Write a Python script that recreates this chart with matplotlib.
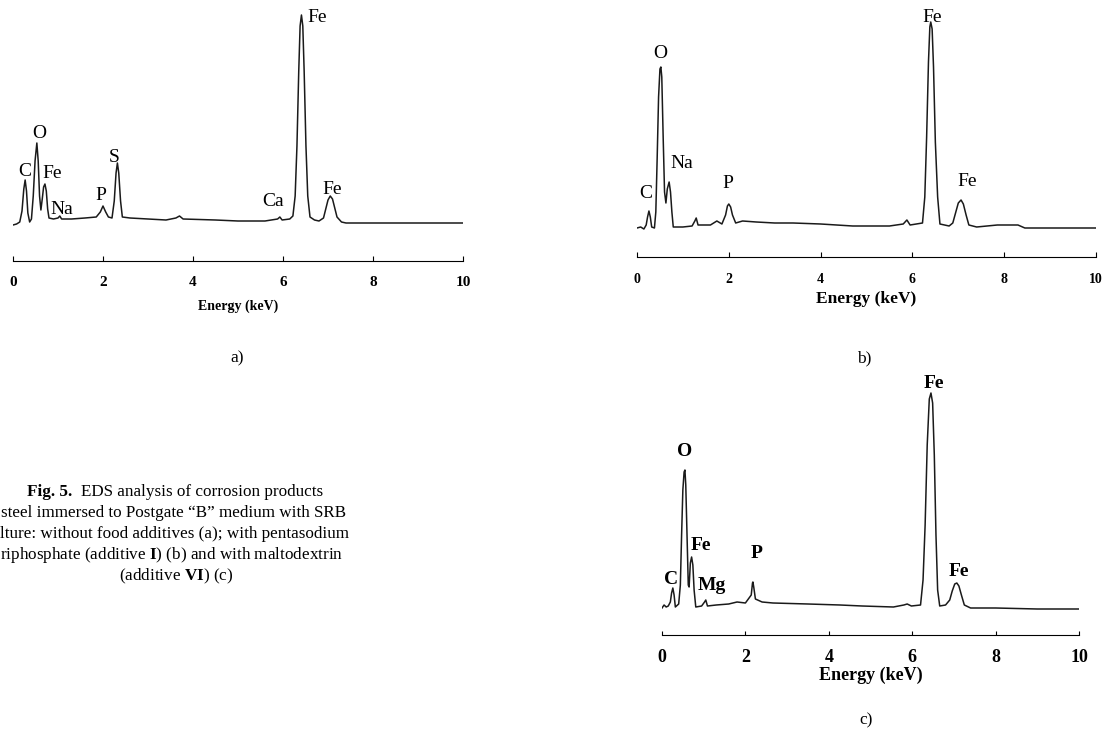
import matplotlib
matplotlib.use("Agg")
import matplotlib.pyplot as plt
import numpy as np

plt.rcParams["font.family"] = "serif"
plt.rcParams["font.serif"] = ["Liberation Serif", "DejaVu Serif"]
plt.rcParams["mathtext.fontset"] = "custom"
plt.rcParams["mathtext.rm"] = "Liberation Serif"
plt.rcParams["mathtext.bf"] = "Liberation Serif:bold"

# spectrum a) - without food additives (energy keV, counts)
energy_a = [0.00, 0.08, 0.15, 0.20, 0.24, 0.27, 0.30, 0.33, 0.37, 0.41, 0.45, 0.49, 0.53, 0.56, 0.59,
            0.62, 0.65, 0.68, 0.71, 0.74, 0.77, 0.80, 0.90, 1.00, 1.04, 1.08, 1.30, 1.60, 1.85, 1.94,
            2.00, 2.06, 2.12, 2.20, 2.25, 2.29, 2.32, 2.35, 2.39, 2.43, 2.60, 3.00, 3.40, 3.62, 3.70,
            3.78, 4.50, 5.00, 5.60, 5.88, 5.93, 5.98, 6.15, 6.22, 6.27, 6.31, 6.35, 6.38, 6.41, 6.44,
            6.47, 6.51, 6.55, 6.60, 6.70, 6.80, 6.90, 6.95, 7.00, 7.05, 7.10, 7.15, 7.20, 7.30, 7.40,
            8.00, 9.00, 10.0]
counts_a = [36, 37, 39, 50, 72, 81, 70, 48, 39, 42, 65, 100, 118, 100, 65,
            51, 62, 74, 77, 70, 52, 43, 42, 43, 45, 42, 42, 43, 44, 49,
            55, 49, 44, 43, 60, 88, 98, 88, 60, 44, 43, 42, 41, 43, 45,
            42, 41, 40, 40, 42, 44, 41, 42, 45, 65, 115, 190, 235, 246, 235,
            190, 115, 65, 44, 41, 40, 43, 52, 61, 65, 62, 53, 44, 39, 38,
            38, 38, 38]

# spectrum b) - with pentasodium triphosphate
energy_b = [0.00, 0.08, 0.15, 0.20, 0.23, 0.26, 0.29, 0.32, 0.38, 0.41, 0.44, 0.47, 0.50, 0.52, 0.54,
            0.57, 0.60, 0.63, 0.66, 0.70, 0.73, 0.76, 0.79, 1.00, 1.20, 1.26, 1.29, 1.33, 1.60, 1.74,
            1.85, 1.93, 1.97, 2.00, 2.04, 2.08, 2.15, 2.30, 2.60, 3.00, 3.40, 4.00, 4.70, 5.50, 5.80,
            5.88, 5.95, 6.22, 6.27, 6.31, 6.35, 6.38, 6.40, 6.43, 6.46, 6.50, 6.55, 6.60, 6.80, 6.88,
            6.94, 7.00, 7.06, 7.11, 7.17, 7.23, 7.40, 7.85, 8.30, 8.45, 9.00, 10.0]
counts_b = [29, 30, 28, 32, 40, 46, 40, 30, 29, 45, 100, 160, 188, 190, 180,
            120, 65, 54, 68, 75, 65, 45, 30, 30, 31, 36, 39, 32, 32, 36,
            33, 42, 51, 53, 50, 42, 34, 36, 35, 34, 34, 33, 31, 31, 33,
            37, 32, 34, 60, 120, 195, 230, 235, 228, 190, 115, 60, 33, 31, 34,
            44, 54, 57, 53, 42, 32, 30, 32, 32, 29, 29, 29]

# spectrum c) - with maltodextrin
energy_c = [0.00, 0.05, 0.10, 0.15, 0.20, 0.23, 0.26, 0.29, 0.32, 0.40, 0.44, 0.47, 0.50, 0.53, 0.55,
            0.57, 0.60, 0.63, 0.65, 0.68, 0.71, 0.74, 0.77, 0.81, 0.95, 1.02, 1.05, 1.09, 1.30, 1.60,
            1.80, 2.00, 2.14, 2.17, 2.18, 2.20, 2.24, 2.40, 2.66, 3.50, 4.27, 4.80, 5.55, 5.80, 5.88,
            5.98, 6.20, 6.26, 6.31, 6.36, 6.41, 6.45, 6.49, 6.53, 6.57, 6.61, 6.66, 6.80, 6.90, 6.96,
            7.02, 7.07, 7.12, 7.18, 7.25, 7.40, 8.00, 9.00, 10.0]
counts_c = [27, 30, 28, 29, 33, 42, 47, 40, 28, 31, 50, 100, 145, 163, 165,
            150, 100, 50, 48, 72, 78, 70, 45, 28, 29, 33, 35, 29, 30, 31,
            33, 32, 40, 52, 53, 48, 36, 33, 32, 31, 30, 29, 28, 30, 31,
            29, 30, 55, 110, 190, 236, 242, 232, 180, 100, 45, 29, 30, 35, 44,
            51, 52, 49, 40, 30, 27, 27, 26, 26]

# peak labels: element, energy, counts
peaks_a = [("C", 0.27, 89), ("O", 0.58, 128), ("Fe", 0.87, 88), ("Na", 1.09, 51), ("P", 1.96, 66),
           ("S", 2.24, 104), ("Ca", 5.78, 59), ("Fe", 6.76, 243), ("Fe", 7.09, 72)]
peaks_b = [("C", 0.20, 64), ("O", 0.50, 204), ("Na", 0.98, 94), ("P", 1.98, 74),
           ("Fe", 6.43, 240), ("Fe", 7.20, 75)]
peaks_c = [("C", 0.22, 55), ("O", 0.55, 183), ("Fe", 0.94, 90), ("Mg", 1.20, 49), ("P", 2.26, 82),
           ("Fe", 6.51, 251), ("Fe", 7.11, 63)]

ticks = [0, 2, 4, 6, 8, 10]

W, H = 1107, 733
fig = plt.figure(figsize=(W / 100, H / 100), dpi=100)


def add_panel(left, right, bottom, top):
  #pixel box -> figure fraction
  return fig.add_axes([left / W, 1 - bottom / H, (right - left) / W, (bottom - top) / H])


def draw_spectrum(ax, energy, counts, peaks, ymax, tickfs, tickpad, ticklen, labfs, labweight,
                  xlabfs, xlaboff):
  ax.plot(energy, counts, color="#1a1a1a", lw=1.1)
  ax.set_xlim(0, 10)
  ax.set_ylim(0, ymax)
  for s in ["left", "right", "top"]:
    ax.spines[s].set_visible(False)
  ax.spines["bottom"].set_linewidth(0.8)
  ax.set_yticks([])
  ax.set_xticks(ticks)
  ax.set_xticklabels([str(t) for t in ticks], fontweight="bold", fontsize=tickfs)
  ax.tick_params(axis="x", direction="in", length=ticklen, width=0.8, pad=tickpad)
  ax.set_xlabel("Energy (keV)", fontweight="bold", fontsize=xlabfs)
  ax.xaxis.set_label_coords(0.5, -xlaboff / ymax)
  for name, e, c in peaks:
    ax.text(e, c, name, ha="center", va="center", fontsize=labfs, fontweight=labweight)


ax_a = add_panel(13, 463, 261, 11)
draw_spectrum(ax_a, energy_a, counts_a, peaks_a, 250, 11, 10.5, 3.8, 14, "normal", 10, 39)

ax_b = add_panel(637, 1096, 257, 12)
draw_spectrum(ax_b, energy_b, counts_b, peaks_b, 245, 10, 11.5, 3.6, 14, "normal", 12.5, 34)

ax_c = add_panel(662, 1079, 635, 390)
draw_spectrum(ax_c, energy_c, counts_c, peaks_c, 245, 13, 10, 3.0, 14, "bold", 13, 32)

# panel letters
fig.text(237 / W, 1 - 358 / H, "a)", ha="center", va="center", fontsize=12.5)
fig.text(864 / W, 1 - 358 / H, "b)", ha="center", va="center", fontsize=12.5)
fig.text(866 / W, 1 - 720 / H, "c)", ha="center", va="center", fontsize=12.5)

# caption (left side of the page is cut off in the source)
capfs = 12.3
fig.text(27 / W, 1 - 492 / H, "Fig. 5.", ha="left", va="center", fontsize=capfs, fontweight="bold")
fig.text(323 / W, 1 - 492 / H, "EDS analysis of corrosion products",
         ha="right", va="center", fontsize=capfs)
fig.text(1 / W, 1 - 513 / H, "steel immersed to Postgate \u201cB\u201d medium with SRB",
         ha="left", va="center", fontsize=capfs)
fig.text(0 / W, 1 - 534 / H, "lture: without food additives (a); with pentasodium",
         ha="left", va="center", fontsize=capfs)
fig.text(0 / W, 1 - 555 / H, r"riphosphate (additive $\mathbf{I}$) (b) and with maltodextrin",
         ha="left", va="center", fontsize=capfs)
fig.text(176 / W, 1 - 576 / H, r"(additive $\mathbf{VI}$) (c)",
         ha="center", va="center", fontsize=capfs)

fig.savefig("out.png", dpi=100)
